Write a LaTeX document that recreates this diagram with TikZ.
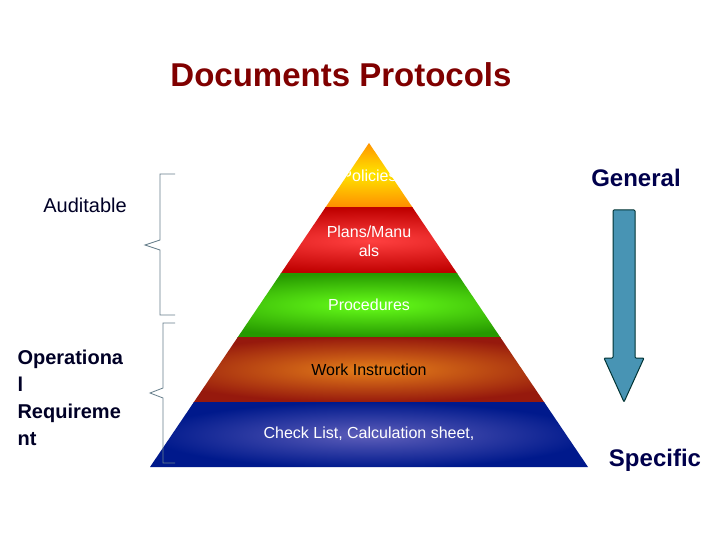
\documentclass[tikz,border=0pt]{standalone}
\usepackage{fontspec}
\setmainfont{Liberation Sans}
\begin{document}
\begin{tikzpicture}[x=1pt,y=-1pt,
  lbl/.style={font=\fontsize{16}{19}\selectfont,text=white,align=center},
  side/.style={font=\bfseries\fontsize{20}{27}\selectfont,text=black!85!blue,align=left},
  brace/.style={draw=gray!60!cyan!70!black,line width=0.8pt}]
\useasboundingbox (0,0) rectangle (720,540);
\fill[white] (0,0) rectangle (720,540);
\node[font=\bfseries\fontsize{33}{38}\selectfont,text=red!50!black] (title) at (341,75) {Documents Protocols};
% pyramid bands
\def\lx#1{(369-(#1-143)*219/324)}
\coordinate (apex) at (369,143);
\coordinate (bl) at (150,467);
\coordinate (br) at (588,467);
\begin{scope}
\clip (apex) -- (bl) -- (br) -- cycle;
\shade[inner color=yellow!80!orange, outer color=orange!90!yellow] (150,140) rectangle (590,208);
\shade[inner color=red!75!white, outer color=red!75!black] (150,208) rectangle (590,273);
\shade[inner color=green!55!lime!90!white, outer color=green!50!black!80!lime] (150,273) rectangle (590,337);
\shade[inner color=orange!60!brown, outer color=red!55!black!80!brown] (150,337) rectangle (590,402);
\shade[inner color=blue!40!gray!90!white, outer color=blue!50!black!90!cyan] (150,402) rectangle (590,468);
\node[lbl] (p1) at (369,176) {Policies};
\end{scope}
\node[lbl] (p2) at (369,241) {Plans/Manu\\als};
\node[lbl] (p3) at (369,305) {Procedures};
\node[lbl,text=black] (p4) at (369,370) {Work Instruction};
\node[lbl] (p5) at (369,434) {Check List, Calculation sheet,};
% braces
\draw[brace] (175,174) -- (160,174) -- (160,240) -- (145,245) -- (160,250) -- (160,315) -- (175,315);
\draw[brace] (175,323) -- (163,323) -- (163,388) -- (150,393) -- (163,398) -- (163,463) -- (175,463);
% side labels
\node[side,font=\fontsize{20}{27}\selectfont] (aud) at (85,205) {Auditable};
\node[side,anchor=north west] (op) at (14,346) {Operationa\\l\\Requireme\\nt};
\node[side,font=\bfseries\fontsize{24}{28}\selectfont,text=blue!30!black] (gen) at (636,178) {General};
\node[side,font=\bfseries\fontsize{24}{28}\selectfont,text=blue!30!black] (spec) at (655,460) {Specific};
% arrow
\coordinate (a1) at (624,210);
\coordinate (a2) at (624,402);
\draw[fill=cyan!45!teal!85!gray,draw=teal!40!black,line width=1pt,rounded corners=1pt]
 (613,210) -- (635,210) -- (635,358) -- (644,358) -- (624,402) -- (604,358) -- (613,358) -- cycle;
\end{tikzpicture}
\end{document}
